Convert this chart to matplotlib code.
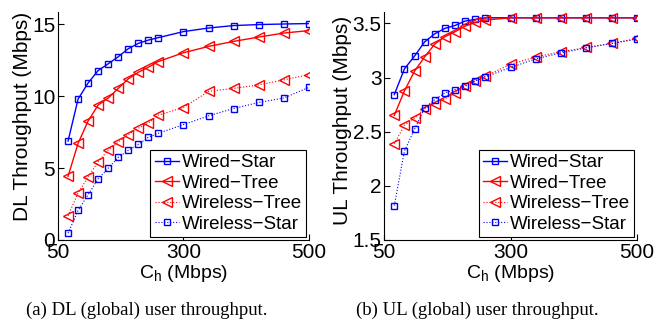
import matplotlib
matplotlib.use('Agg')
import matplotlib.pyplot as plt
import numpy as np

# capacity C_h (Mbps) of each sample point
c_h = [70, 90, 110, 130, 150, 170, 190, 210, 230, 250, 300, 340, 380, 420, 460, 500]

# DL throughput (Mbps)
dl_wired_star = [6.88, 9.80, 10.92, 11.78, 12.25, 12.74, 13.30, 13.67, 13.90, 14.07,
                 14.49, 14.74, 14.91, 14.98, 15.02, 15.05]
dl_wired_tree = [4.43, 6.72, 8.28, 9.38, 9.87, 10.54, 11.20, 11.66, 12.01, 12.41,
                 13.02, 13.46, 13.81, 14.11, 14.39, 14.56]
dl_wireless_tree = [1.68, 3.27, 4.39, 5.44, 6.25, 6.81, 7.32, 7.77, 8.12, 8.68,
                    9.21, 10.33, 10.54, 10.78, 11.13, 11.50]
dl_wireless_star = [0.47, 2.05, 3.15, 4.25, 4.99, 5.74, 6.23, 6.65, 7.14, 7.42,
                    8.02, 8.63, 9.14, 9.56, 9.87, 10.61]

# UL throughput (Mbps)
ul_wired_star = [2.843, 3.080, 3.198, 3.330, 3.404, 3.454, 3.481, 3.522, 3.537, 3.552,
                 3.552, 3.552, 3.552, 3.552, 3.552, 3.552]
ul_wired_tree = [2.651, 2.877, 3.059, 3.191, 3.309, 3.377, 3.423, 3.475, 3.509, 3.531,
                 3.552, 3.552, 3.552, 3.552, 3.552, 3.552]
ul_wireless_tree = [2.389, 2.559, 2.627, 2.713, 2.759, 2.802, 2.861, 2.923, 2.969, 3.012,
                    3.123, 3.191, 3.238, 3.278, 3.315, 3.361]
ul_wireless_star = [1.818, 2.321, 2.522, 2.719, 2.796, 2.858, 2.889, 2.920, 2.969, 3.006,
                    3.093, 3.173, 3.228, 3.275, 3.315, 3.355]

labels = ['Wired\u2212Star', 'Wired\u2212Tree', 'Wireless\u2212Tree', 'Wireless\u2212Star']
x_ticks = [50, 300, 500]

plt.rcParams['font.family'] = ['Liberation Sans', 'DejaVu Sans']
plt.rcParams['mathtext.fontset'] = 'custom'
plt.rcParams['mathtext.rm'] = 'Liberation Sans'
plt.rcParams['mathtext.it'] = 'Liberation Sans'

# piecewise-linear x axis: 300 sits in the middle of 50..500
brk_x = [50, 300, 500]
brk_p = [0.0, 0.5, 1.0]


def fwd(x):
    return np.interp(x, brk_x, brk_p)


def inv(p):
    return np.interp(p, brk_p, brk_x)


fig = plt.figure(figsize=(6.67, 3.26), dpi=100)
ax1 = fig.add_axes([0.087, 0.264, 0.376, 0.699])
ax2 = fig.add_axes([0.576, 0.264, 0.379, 0.699])


def draw(ax, series, ylim, yticks, yticklabels, ylabel, ylab_y):
    styles = [('b', 's', '-', 5), ('r', '<', '-', 6.5), ('r', '<', ':', 6.5), ('b', 's', ':', 5)]
    for ys, lab, (c, m, ls, ms) in zip(series, labels, styles):
        ax.plot(c_h, ys, color=c, marker=m, linestyle=ls, markersize=ms,
                markerfacecolor='none', markeredgecolor=c, markeredgewidth=1.0,
                linewidth=1.0 if ls == '-' else 0.8, label=lab)
    ax.set_xscale('function', functions=(fwd, inv))
    ax.set_xlim(50, 500)
    ax.set_xticks(x_ticks)
    ax.set_xticklabels([str(t) for t in x_ticks])
    ax.set_ylim(*ylim)
    ax.set_yticks(yticks)
    ax.set_yticklabels(yticklabels)
    ax.minorticks_off()
    ax.spines['top'].set_visible(False)
    ax.spines['right'].set_visible(False)
    ax.tick_params(direction='in', length=4, labelsize=15, pad=2)
    ax.set_xlabel('C$_\\mathrm{h}$ (Mbps)', fontsize=14, labelpad=1)
    ax.set_ylabel(ylabel, fontsize=15, labelpad=0)
    ax.yaxis.label.set_y(ylab_y)
    leg = ax.legend(loc='lower right', fontsize=13.5, numpoints=1, fancybox=False,
                    framealpha=1, edgecolor='k', borderaxespad=0.15,
                    handlelength=1.3, handletextpad=0.15, labelspacing=0.18,
                    borderpad=0.22)
    leg.get_frame().set_linewidth(0.8)


draw(ax1, [dl_wired_star, dl_wired_tree, dl_wireless_tree, dl_wireless_star],
     (0, 15.85), [0, 5, 10, 15], ['0', '5', '10', '15'], 'DL Throughput (Mbps)', 0.54)
draw(ax2, [ul_wired_star, ul_wired_tree, ul_wireless_tree, ul_wireless_star],
     (1.5, 3.605), [1.5, 2, 2.5, 3, 3.5], ['1.5', '2', '2.5', '3', '3.5'],
     'UL Throughput (Mbps)', 0.526)

fig.text(0.22, 0.049, '(a) DL (global) user throughput.', ha='center', va='center',
         family='Liberation Serif', fontsize=13.5)
fig.text(0.716, 0.049, '(b) UL (global) user throughput.', ha='center', va='center',
         family='Liberation Serif', fontsize=13.5)

fig.savefig('out.png', dpi=100)
